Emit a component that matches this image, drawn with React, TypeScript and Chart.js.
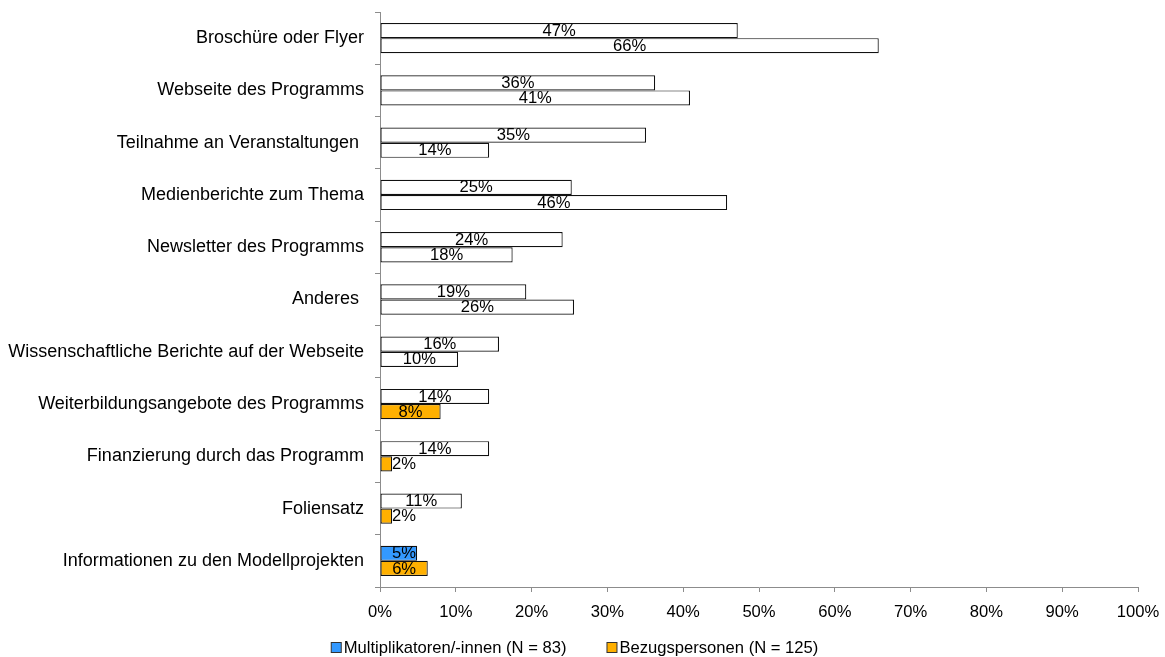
import React, { useEffect, useRef } from "react";
import { Chart, registerables } from "chart.js";

Chart.register(...registerables);

const categories = [
  "Broschüre oder Flyer",
  "Webseite des Programms",
  "Teilnahme an Veranstaltungen ",
  "Medienberichte zum Thema",
  "Newsletter des Programms",
  "Anderes ",
  "Wissenschaftliche Berichte auf der Webseite",
  "Weiterbildungsangebote des Programms",
  "Finanzierung durch das Programm",
  "Foliensatz",
  "Informationen zu den Modellprojekten",
];

const multiplikatoren = [47.2, 36.3, 35.1, 25.3, 24.1, 19.3, 15.7, 14.4, 14.4, 10.8, 4.9];
const bezugspersonen = [65.8, 40.9, 14.4, 45.8, 17.5, 25.6, 10.3, 8.0, 1.6, 1.6, 6.3];

const seriesNames = ["Multiplikatoren/-innen (N = 83)", "Bezugspersonen (N = 125)"];
const seriesColors = ["#3399FF", "#FFB000"];
// which bars are filled with the series colour (others are white)
const multiplikatorenFilled = [false, false, false, false, false, false, false, false, false, false, true];
const bezugspersonenFilled = [false, false, false, false, false, false, false, true, true, true, true];

const xTicks = [0, 10, 20, 30, 40, 50, 60, 70, 80, 90, 100];

const FONT = "'Liberation Sans', Arial, sans-serif";
const SMALL = 16.6;

const labelPlugin = {
  id: "barLabels",
  afterDatasetsDraw(chart: any) {
    const ctx = chart.ctx;
    ctx.save();
    ctx.font = `${SMALL}px ${FONT}`;
    ctx.fillStyle = "#000";
    ctx.textAlign = "center";
    ctx.textBaseline = "middle";
    const left = chart.chartArea.left;
    chart.data.datasets.forEach((ds: any, di: number) => {
      const meta = chart.getDatasetMeta(di);
      meta.data.forEach((el: any, i: number) => {
        const v = ds.data[i];
        const txt = `${Math.round(v)}%`;
        const w = ctx.measureText(txt).width;
        const center = (el.x + el.base) / 2;
        const x = Math.max(center, left + 12 + w / 2);
        ctx.fillText(txt, x, el.y + 0.5);
      });
    });
    ctx.restore();
  },
};

const legendPlugin = {
  id: "customLegend",
  afterDraw(chart: any) {
    const ctx = chart.ctx;
    ctx.save();
    ctx.font = `${SMALL}px ${FONT}`;
    ctx.textBaseline = "middle";
    ctx.textAlign = "left";
    const box = 10;
    const gap = 3;
    const itemGap = 40;
    const widths = seriesNames.map((n) => box + gap + ctx.measureText(n).width);
    const total = widths.reduce((a, b) => a + b, 0) + itemGap * (seriesNames.length - 1);
    let x = chart.width / 2 - 8 - total / 2;
    const y = chart.height - 9;
    seriesNames.forEach((n, i) => {
      ctx.fillStyle = seriesColors[i];
      ctx.fillRect(x + 0.5, y - 5.5, box, box);
      ctx.strokeStyle = "#333";
      ctx.lineWidth = 1;
      ctx.strokeRect(x + 0.5, y - 5.5, box, box);
      ctx.fillStyle = "#000";
      ctx.fillText(n, x + box + gap, y);
      x += widths[i] + itemGap;
    });
    ctx.restore();
  },
};

export default function App() {
  const ref = useRef<HTMLCanvasElement | null>(null);
  useEffect(() => {
    document.body.style.margin = "0";
    const c = ref.current;
    if (!c) return;
    const chart = new Chart(c, {
      type: "bar",
      data: {
        labels: categories,
        datasets: [
          {
            label: seriesNames[0],
            data: multiplikatoren,
            backgroundColor: multiplikatorenFilled.map((f) => (f ? seriesColors[0] : "#FFFFFF")),
            borderColor: "#111",
            borderWidth: 1.2,
            borderSkipped: false,
          },
          {
            label: seriesNames[1],
            data: bezugspersonen,
            backgroundColor: bezugspersonenFilled.map((f) => (f ? seriesColors[1] : "#FFFFFF")),
            borderColor: "#111",
            borderWidth: 1.2,
            borderSkipped: false,
          },
        ],
      },
      options: {
        indexAxis: "y",
        animation: false,
        responsive: false,
        maintainAspectRatio: false,
        datasets: { bar: { categoryPercentage: 0.58, barPercentage: 1.0 } },
        layout: { padding: { top: 12, right: 27, left: 0, bottom: 0 } },
        scales: {
          y: {
            afterFit: (s: any) => {
              s.width = 380;
              s.paddingTop = 0;
              s.paddingBottom = 0;
            },
            grid: {
              drawOnChartArea: false,
              drawTicks: true,
              tickLength: 5,
              color: "#8c8c8c",
              offset: true,
            },
            border: { color: "#8c8c8c", width: 1 },
            ticks: {
              color: "#000",
              padding: 11,
              font: { family: FONT, size: 18 },
            },
          },
          x: {
            min: 0,
            max: 100,
            afterBuildTicks: (s: any) => {
              s.ticks = xTicks.map((v) => ({ value: v }));
            },
            afterFit: (s: any) => {
              s.height = 70;
              s.paddingLeft = 0;
              s.paddingRight = 0;
            },
            grid: {
              drawOnChartArea: false,
              drawTicks: true,
              tickLength: 5,
              color: "#8c8c8c",
            },
            border: { color: "#8c8c8c", width: 1 },
            ticks: {
              color: "#000",
              padding: 10,
              font: { family: FONT, size: SMALL },
              callback: (v: any) => `${v}%`,
            },
          },
        },
        plugins: {
          tooltip: { enabled: false },
          legend: { display: false },
        },
      },
      plugins: [labelPlugin, legendPlugin],
    });
    return () => chart.destroy();
  }, []);
  return (
    <div style={{ width: 1165, height: 657 }}>
      <canvas ref={ref} width={1165} height={657} style={{ display: "block" }} />
    </div>
  );
}
